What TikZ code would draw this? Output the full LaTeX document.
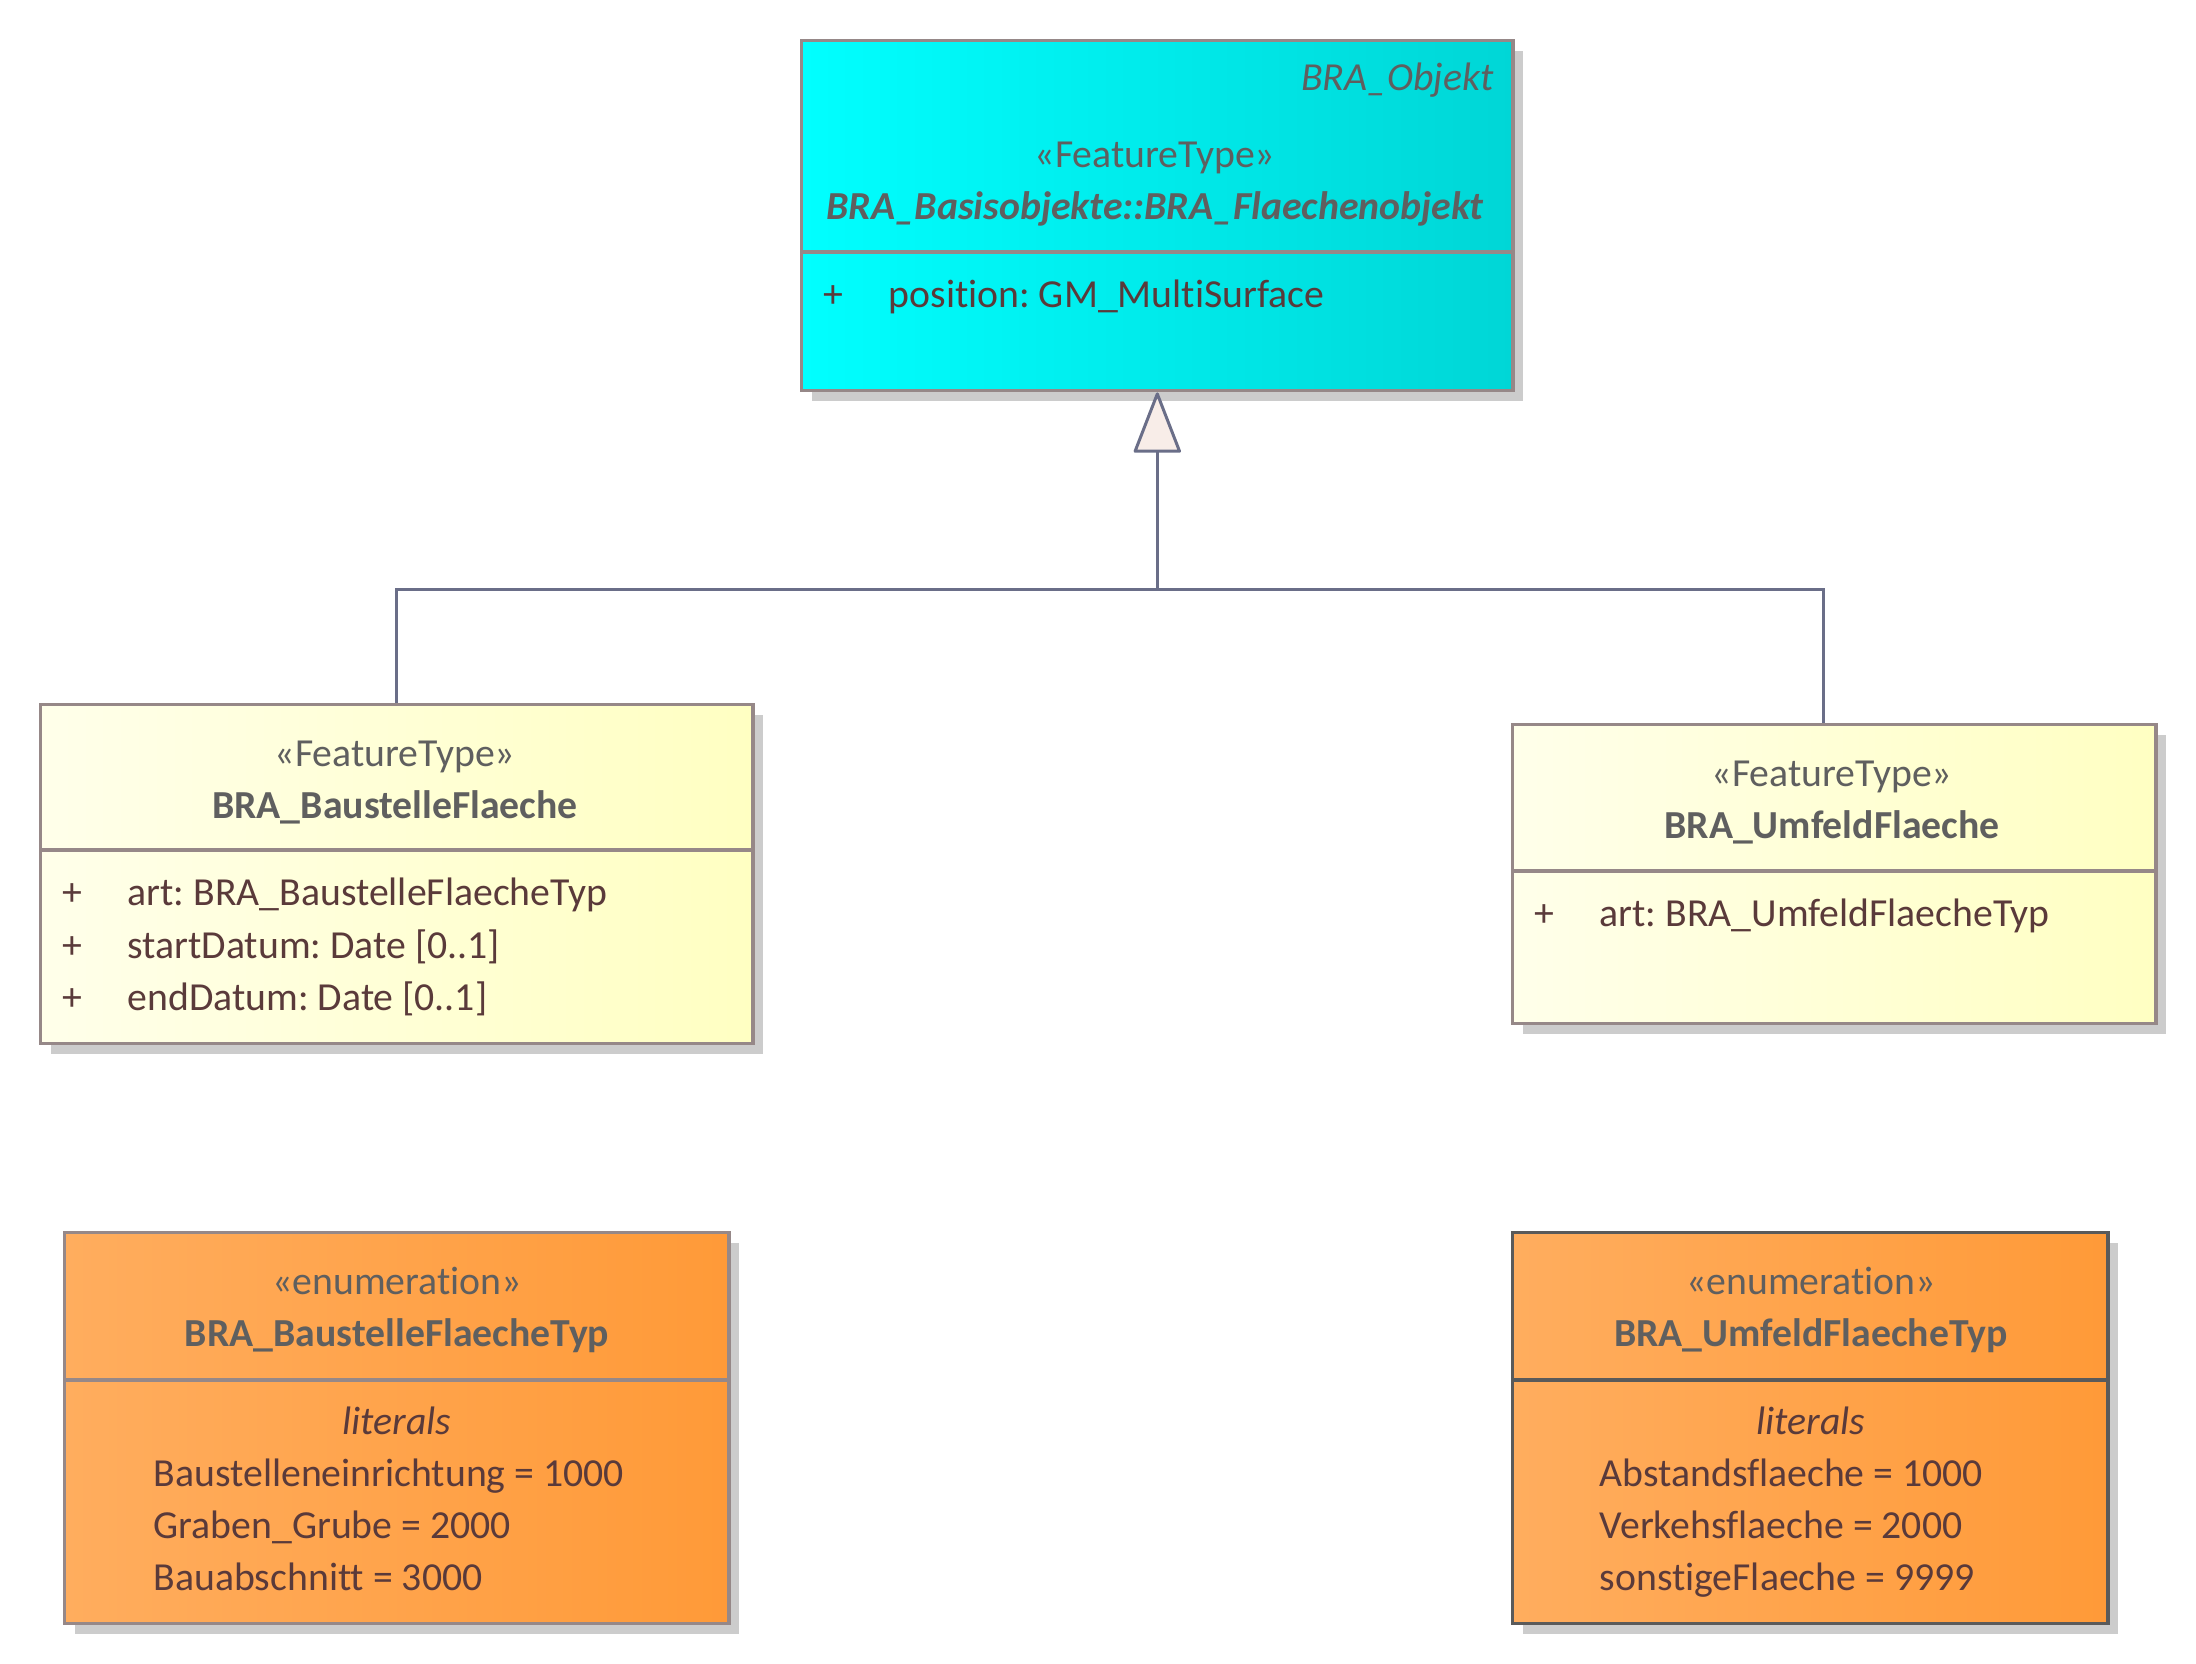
\documentclass[tikz,border=0pt]{standalone}
\usepackage{fontspec}
\setmainfont{Carlito}[Ligatures=NoCommon]
\frenchspacing
\usetikzlibrary{shadows,arrows.meta}
\definecolor{hdr}{HTML}{5F5F5F}
\definecolor{attr}{HTML}{5A3A3A}
\definecolor{bord}{HTML}{968888}
\definecolor{bordd}{HTML}{5A5A5A}
\definecolor{conn}{HTML}{6A6E88}
\definecolor{triF}{HTML}{F8EDE8}
\definecolor{cyanL}{HTML}{00FFFF}
\definecolor{cyanR}{HTML}{00D6D6}
\definecolor{yelL}{HTML}{FFFFEA}
\definecolor{yelR}{HTML}{FFFFC2}
\definecolor{orL}{HTML}{FFAD5E}
\definecolor{orR}{HTML}{FF9A38}
\begin{document}
\frenchspacing
\begin{tikzpicture}[x=0.01cm,y=-0.01cm,
  font=\fontsize{11.3}{14}\selectfont,
  box/.style={draw=bord, line width=0.032cm, anchor=north west, inner sep=0pt,
    drop shadow={shadow xshift=0.1cm,shadow yshift=-0.1cm,fill=black!20,opacity=1}},
  cyanbox/.style={box, left color=cyanL, right color=cyanR},
  yelbox/.style={box, left color=yelL, right color=yelR},
  orbox/.style={box, left color=orL, right color=orR},
  sepline/.style={draw=bord, line width=0.032cm},
  stereo/.style={text=hdr, anchor=mid, inner sep=0pt},
  cname/.style={text=hdr, anchor=mid, inner sep=0pt, font=\fontsize{11.3}{14}\selectfont\bfseries},
  attrt/.style={text=attr, anchor=mid west, inner sep=0pt},
  conn/.style={draw=conn, line width=0.03cm}
]
\useasboundingbox (0,0) rectangle (2196,1664);

% top box
\node[cyanbox, minimum width=7.11cm, minimum height=3.50cm] (top) at (800,39) {};
\draw[sepline] (top.west |- 0,252) -- (top.east |- 0,252);
\node[text=hdr, anchor=mid east, inner sep=0pt, font=\fontsize{11.3}{14}\selectfont\itshape] (topabs) at (1494,82) {BRA\_Objekt};
\node[stereo] (topst) at (1155,159) {«FeatureType»};
\node[cname, font=\fontsize{11.3}{14}\selectfont\bfseries\itshape] (topnm) at (1155,211) {BRA\_Basisobjekte::BRA\_Flaechenobjekt};
\node[attrt] (topp) at (823,299) {+};
\node[attrt] (topa) at (888,299) {position: GM\_MultiSurface};

% left yellow
\node[yelbox, minimum width=7.12cm, minimum height=3.39cm] (bf) at (39,703) {};
\draw[sepline] (bf.west |- 0,850) -- (bf.east |- 0,850);
\node[stereo] (bfst) at (395,758) {«FeatureType»};
\node[cname] (bfnm) at (395,810) {BRA\_BaustelleFlaeche};
\node[attrt] (bfp1) at (62,897) {+};
\node[attrt] (bfa1) at (127,897) {art: BRA\_BaustelleFlaecheTyp};
\node[attrt] (bfp2) at (62,950) {+};
\node[attrt] (bfa2) at (127,950) {startDatum: Date [0..1]};
\node[attrt] (bfp3) at (62,1002) {+};
\node[attrt] (bfa3) at (127,1002) {endDatum: Date [0..1]};

% right yellow
\node[yelbox, minimum width=6.43cm, minimum height=2.99cm] (uf) at (1511,723) {};
\draw[sepline] (uf.west |- 0,871) -- (uf.east |- 0,871);
\node[stereo] (ufst) at (1832,778) {«FeatureType»};
\node[cname] (ufnm) at (1832,830) {BRA\_UmfeldFlaeche};
\node[attrt] (ufp1) at (1534,918) {+};
\node[attrt] (ufa1) at (1599,918) {art: BRA\_UmfeldFlaecheTyp};

% left orange
\node[orbox, minimum width=6.64cm, minimum height=3.91cm] (bft) at (63,1231) {};
\draw[sepline] (bft.west |- 0,1380) -- (bft.east |- 0,1380);
\node[stereo] (bftst) at (397,1286) {«enumeration»};
\node[cname] (bftnm) at (397,1338) {BRA\_BaustelleFlaecheTyp};
\node[stereo, text=attr, font=\fontsize{11.3}{14}\selectfont\itshape] (bftlit) at (397,1426) {literals};
\node[attrt] (bftl1) at (153,1478) {Baustelleneinrichtung = 1000};
\node[attrt] (bftl2) at (153,1530) {Graben\_Grube = 2000};
\node[attrt] (bftl3) at (153,1582) {Bauabschnitt = 3000};

% right orange
\node[orbox, draw=bordd, minimum width=5.95cm, minimum height=3.91cm] (uft) at (1511,1231) {};
\draw[sepline, draw=bordd] (uft.west |- 0,1380) -- (uft.east |- 0,1380);
\node[stereo] (uftst) at (1811,1286) {«enumeration»};
\node[cname] (uftnm) at (1811,1338) {BRA\_UmfeldFlaecheTyp};
\node[stereo, text=attr, font=\fontsize{11.3}{14}\selectfont\itshape] (uftlit) at (1811,1426) {literals};
\node[attrt] (uftl1) at (1599,1478) {Abstandsflaeche = 1000};
\node[attrt] (uftl2) at (1599,1530) {Verkehsflaeche = 2000};
\node[attrt] (uftl3) at (1599,1582) {sonstigeFlaeche = 9999};

% generalization
\coordinate (j) at (top.south |- 0,590);
\coordinate (rj) at (1823,590);
\coordinate (rt) at (1823,723);
\draw[conn] (bf.north) |- (j) -- (rj) -- (rt);
\draw[conn, -{Triangle[length=0.63cm, width=0.48cm, fill=triF, line join=round]}] (j) -- (top.south);
\end{tikzpicture}
\end{document}
